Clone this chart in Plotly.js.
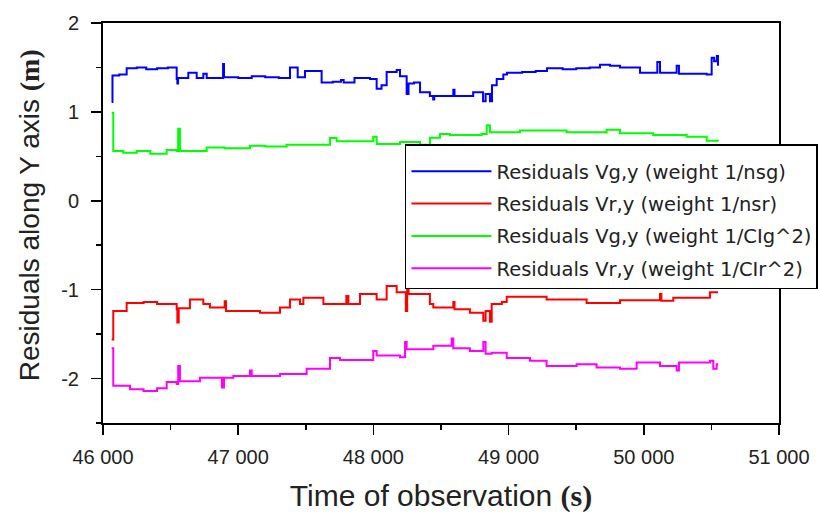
<!DOCTYPE html>
<html>
<head>
<meta charset="utf-8">
<script src="https://cdn.plot.ly/plotly-3.0.1.min.js"></script>
<style>html,body{margin:0;padding:0;background:#fff;}#chart{width:818px;height:521px;}</style>
</head>
<body>
<div id="chart"></div>
<script>
// ---- data ----
const seriesNames = [
  "Residuals Vg,y (weight 1/nsg)",
  "Residuals Vr,y (weight 1/nsr)",
  "Residuals Vg,y (weight 1/CIg^2)",
  "Residuals Vr,y (weight 1/CIr^2)"
];

const tBlue = [46064,46070,46120,46175,46250,46320,46400,46480,46545,46550,46555,46631,46693,46742,46767,46888,46895,47000,47100,47200,47300,47383,47440,47494,47617,47700,47760,47780,47860,47975,48024,48060,48098,48172,48197,48246,48260,48300,48345,48418,48442,48450,48591,48600,48738,48811,48830,48862,48877,48912,48961,48988,49100,49200,49284,49400,49500,49600,49676,49750,49824,49972,50100,50120,50243,50260,50350,50465,50502,50520,50540,50549];
const vBlue = [1.11,1.41,1.42,1.49,1.50,1.48,1.49,1.50,1.37,1.32,1.38,1.44,1.38,1.43,1.38,1.54,1.39,1.38,1.40,1.39,1.38,1.50,1.39,1.46,1.33,1.34,1.36,1.33,1.38,1.37,1.26,1.30,1.45,1.47,1.40,1.20,1.32,1.33,1.22,1.18,1.14,1.18,1.25,1.18,1.22,1.12,1.20,1.12,1.30,1.37,1.42,1.44,1.45,1.46,1.49,1.48,1.49,1.50,1.53,1.52,1.50,1.44,1.56,1.44,1.52,1.43,1.43,1.42,1.61,1.57,1.63,1.52];

const tRed = [46064,46076,46175,46300,46400,46545,46550,46560,46643,46742,46791,46900,46910,47161,47309,47383,47457,47482,47630,47800,47815,47901,48024,48098,48172,48240,48250,48260,48418,48443,48591,48600,48714,48813,48830,48862,48875,48950,48986,49281,49577,49824,50120,50130,50218,50489,50549];
const vRed = [-1.56,-1.24,-1.15,-1.14,-1.16,-1.22,-1.37,-1.21,-1.11,-1.16,-1.20,-1.13,-1.24,-1.26,-1.20,-1.11,-1.16,-1.09,-1.16,-1.07,-1.16,-1.05,-1.11,-0.96,-1.03,-1.24,-0.95,-1.05,-1.16,-1.20,-1.14,-1.22,-1.26,-1.35,-1.24,-1.36,-1.16,-1.14,-1.08,-1.11,-1.15,-1.12,-1.05,-1.125,-1.09,-1.03,-1.03];

const tGreen = [46064,46076,46150,46250,46350,46471,46545,46556,46569,46767,46900,47087,47200,47358,47600,47679,47728,47999,48024,48197,48246,48345,48418,48492,48566,48800,48838,48862,49084,49429,49725,49824,50070,50317,50465,50549];
const vGreen = [0.99,0.56,0.54,0.56,0.53,0.57,0.56,0.81,0.56,0.60,0.59,0.62,0.61,0.63,0.63,0.705,0.67,0.72,0.64,0.66,0.66,0.63,0.71,0.75,0.74,0.75,0.85,0.77,0.79,0.77,0.80,0.76,0.74,0.72,0.675,0.67];

const tMag = [46064,46076,46200,46300,46400,46471,46545,46556,46569,46717,46880,46895,46964,47087,47100,47309,47506,47679,47753,47999,48024,48197,48234,48246,48443,48579,48591,48714,48813,48830,48875,48986,49158,49281,49503,49651,49824,49947,50120,50243,50260,50489,50514,50539,50549];
const vMag = [-1.66,-2.08,-2.12,-2.14,-2.11,-2.04,-2.06,-1.86,-2.03,-1.99,-2.10,-1.99,-1.97,-1.91,-1.97,-1.95,-1.89,-1.77,-1.79,-1.69,-1.74,-1.76,-1.59,-1.67,-1.63,-1.55,-1.66,-1.69,-1.59,-1.72,-1.71,-1.77,-1.80,-1.86,-1.84,-1.875,-1.89,-1.82,-1.86,-1.91,-1.82,-1.80,-1.89,-1.84,-1.84];

const xTickVals = [46000,47000,48000,49000,50000,51000];
const xTickText = ["46 000","47 000","48 000","49 000","50 000","51 000"];
const yTickVals = [-2,-1,0,1,2];
const yTickText = ["-2","-1","0","1","2"];

const colors = ["#0000ff","#ff0000","#00ff00","#ff00ff"];
const xs = [tBlue,tRed,tGreen,tMag];
const ys = [vBlue,vRed,vGreen,vMag];

const traces = seriesNames.map((n,i)=>({
  type:"scatter", mode:"lines", name:n, x:xs[i], y:ys[i],
  line:{color:colors[i], width:2, shape:"hv"},
  legendgroup:"g"+i
}));

const tickFont = {family:"Liberation Sans, Arial, sans-serif", size:20, color:"#222"};

const layout = {
  width:818, height:521,
  margin:{l:103, r:39, t:23, b:98, autoexpand:false},
  paper_bgcolor:"#fff", plot_bgcolor:"#fff",
  showlegend:true,
  legend:{
    x:0.4467, y:0.6975, xanchor:"left", yanchor:"top",
    bgcolor:"#fff", bordercolor:"#000", borderwidth:1.5,
    font:{family:"DejaVu Sans, Verdana, sans-serif", size:19.5, color:"#222"},
    title:{text:"&nbsp;", font:{size:5}},
    itemwidth:80, tracegroupgap:4
  },
  xaxis:{
    range:[46000,51000], tickvals:xTickVals, ticktext:xTickText,
    ticks:"outside", ticklen:10, tickwidth:1.5, tickcolor:"#000",
    minor:{dtick:500, ticks:"outside", ticklen:5, tickwidth:1.5, tickcolor:"#000", showgrid:false},
    showline:true, linecolor:"#000", linewidth:2, mirror:true,
    showgrid:false, zeroline:false, tickfont:tickFont, ticklabelstandoff:5,
    title:{text:"Time of observation <b><span style=\"font-family:'Liberation Serif',serif\">(s)</span></b>",
      font:{family:"Liberation Sans, Arial, sans-serif", size:30, color:"#222"}, standoff:18}
  },
  yaxis:{
    range:[-2.5,2], tickvals:yTickVals, ticktext:yTickText,
    ticks:"outside", ticklen:10, tickwidth:1.5, tickcolor:"#000",
    minor:{dtick:0.5, ticks:"outside", ticklen:5, tickwidth:1.5, tickcolor:"#000", showgrid:false},
    showline:true, linecolor:"#000", linewidth:2, mirror:true,
    showgrid:false, zeroline:false, tickfont:tickFont, ticklabelstandoff:8,
    title:{text:"&nbsp;&nbsp;Residuals along Y axis <b><span style=\"font-family:'Liberation Serif',serif\">(m)</span></b>",
      font:{family:"Liberation Sans, Arial, sans-serif", size:28, color:"#222"}, standoff:13}
  }
};

Plotly.newPlot("chart", traces, layout, {staticPlot:true, displayModeBar:false});
</script>
</body>
</html>
